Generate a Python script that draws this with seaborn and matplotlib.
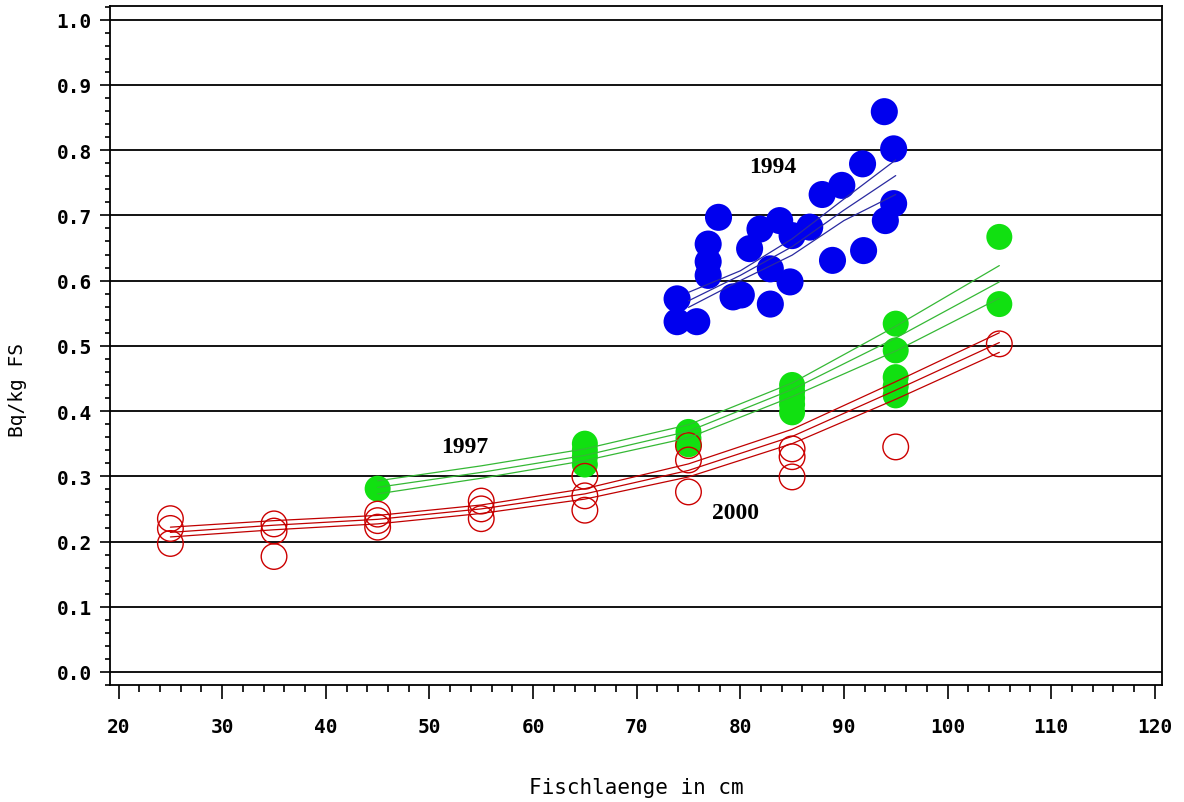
import seaborn as sns
import matplotlib.pyplot as plt
from matplotlib.ticker import MultipleLocator, FormatStrFormatter

x_1994 = [73.9, 73.9, 75.8, 76.9, 76.9, 76.9, 77.9, 79.3, 80.1, 80.9, 81.9, 82.9, 82.9,
          83.8, 84.8, 85.0, 86.7, 87.9, 89.8, 88.9, 91.9, 91.8, 93.9, 94.0, 94.8, 94.8]
y_1994 = [0.537, 0.572, 0.537, 0.608, 0.629, 0.656, 0.697, 0.575, 0.578, 0.649, 0.679, 0.618, 0.564,
          0.692, 0.598, 0.669, 0.682, 0.732, 0.746, 0.631, 0.646, 0.779, 0.859, 0.692, 0.718, 0.802]

x_1997 = [45, 65, 65, 65, 65, 75, 75, 75, 85, 85, 85, 85, 85, 95, 95, 95, 95, 95, 105, 105]
y_1997 = [0.281, 0.35, 0.34, 0.33, 0.318, 0.368, 0.358, 0.349, 0.44, 0.43, 0.42, 0.41, 0.398,
          0.534, 0.493, 0.452, 0.438, 0.424, 0.667, 0.564]

x_2000 = [25, 25, 25, 35, 35, 35, 45, 45, 45, 55, 55, 55, 65, 65, 65,
          75, 75, 75, 85, 85, 85, 95, 105]
y_2000 = [0.235, 0.22, 0.197, 0.227, 0.216, 0.177, 0.242, 0.232, 0.222, 0.262, 0.25, 0.235,
          0.30, 0.27, 0.248, 0.347, 0.325, 0.276, 0.342, 0.33, 0.299, 0.345, 0.503]

# Regressionskurven mit Vertrauensbereich (oben, Mitte, unten)
kurve_x_1994 = [75, 80, 85, 90, 95]
kurve_1994 = [[0.582, 0.615, 0.664, 0.725, 0.785],
              [0.569, 0.608, 0.652, 0.708, 0.761],
              [0.559, 0.600, 0.639, 0.692, 0.732]]

kurve_x_1997 = [45, 55, 65, 75, 85, 95, 105]
kurve_1997 = [[0.293, 0.316, 0.342, 0.379, 0.443, 0.530, 0.623],
              [0.283, 0.306, 0.332, 0.369, 0.433, 0.512, 0.598],
              [0.273, 0.297, 0.324, 0.359, 0.422, 0.492, 0.573]]

kurve_x_2000 = [25, 35, 45, 55, 65, 75, 85, 95, 105]
kurve_2000 = [[0.222, 0.232, 0.240, 0.256, 0.281, 0.319, 0.372, 0.445, 0.520],
              [0.214, 0.225, 0.234, 0.250, 0.273, 0.309, 0.361, 0.432, 0.505],
              [0.207, 0.218, 0.227, 0.243, 0.265, 0.299, 0.350, 0.418, 0.490]]

jahre = ['1994', '1997', '2000']
jahr_pos = [(83.1, 0.775), (53.4, 0.345), (79.5, 0.244)]

sns.set_style('ticks')
plt.rcParams['font.family'] = ['DejaVu Sans Mono', 'DejaVu Sans']
plt.rcParams['text.color'] = 'black'
plt.rcParams['axes.labelcolor'] = 'black'
plt.rcParams['xtick.color'] = 'black'
plt.rcParams['ytick.color'] = 'black'

fig = plt.figure(figsize=(11.84, 8.03), dpi=100)
ax = fig.add_axes([110 / 1184, 117 / 803, 1052 / 1184, 679 / 803])

# --- Punkte ---
sns.scatterplot(x=x_1994, y=y_1994, color='#0000ee', s=380, edgecolor='none', ax=ax, zorder=3)
sns.scatterplot(x=x_1997, y=y_1997, color='#11e011', s=350, edgecolor='none', ax=ax, zorder=3)
sns.scatterplot(x=x_2000, y=y_2000, facecolor='none', edgecolor='#cc0000', linewidth=1.0,
                s=340, ax=ax, zorder=3)

# --- Kurven ---
for kx, kurven, farbe in [(kurve_x_1994, kurve_1994, '#2a2aa0'),
                          (kurve_x_1997, kurve_1997, '#35b835'),
                          (kurve_x_2000, kurve_2000, '#c00000')]:
    for ky in kurven:
        sns.lineplot(x=kx, y=ky, color=farbe, linewidth=0.9, estimator=None, sort=False,
                     ax=ax, zorder=4)

for txt, (tx, ty) in zip(jahre, jahr_pos):
    ax.text(tx, ty, txt, ha='center', va='center', family='Liberation Serif',
            fontweight='bold', fontsize=17, zorder=5)

# --- Achsen ---
ax.set_xlim(19.17, 120.7)
ax.set_ylim(-0.02, 1.021)
ax.xaxis.set_major_locator(MultipleLocator(10))
ax.xaxis.set_minor_locator(MultipleLocator(2))
ax.yaxis.set_major_locator(MultipleLocator(0.1))
ax.yaxis.set_minor_locator(MultipleLocator(0.02))
ax.yaxis.set_major_formatter(FormatStrFormatter('%.1f'))

ax.yaxis.grid(True, color='black', linewidth=1.3)
ax.set_axisbelow(True)
for sp in ax.spines.values():
    sp.set_visible(True)
    sp.set_color('black')
    sp.set_linewidth(1.3)

ax.tick_params(axis='x', which='major', direction='out', length=10, width=1.2, pad=13,
               labelsize=14, bottom=True)
ax.tick_params(axis='x', which='minor', direction='out', length=5, width=1.2, bottom=True)
ax.tick_params(axis='y', which='major', direction='out', length=7, width=1.2, pad=6,
               labelsize=14, left=True)
ax.tick_params(axis='y', which='minor', direction='out', length=3.6, width=1.2, left=True)
for lab in ax.get_xticklabels() + ax.get_yticklabels():
    lab.set_fontweight('bold')

ax.set_xlabel('Fischlaenge in cm', fontsize=15)
ax.set_ylabel('Bq/kg FS', fontsize=14)
ax.xaxis.set_label_coords(0.5, -0.135)
ax.yaxis.set_label_coords(-0.079, 0.436)

fig.savefig('out.png', dpi=100, facecolor='white')
